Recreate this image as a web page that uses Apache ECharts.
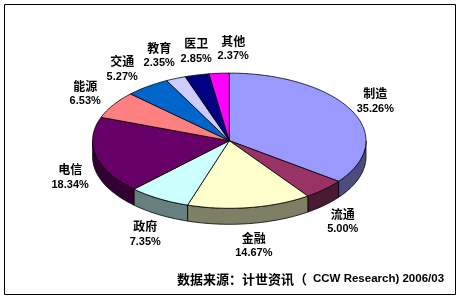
<!DOCTYPE html>
<html>
<head>
<meta charset="utf-8">
<script src="https://cdn.jsdelivr.net/npm/echarts@6/dist/echarts.min.js"></script>
<style>html,body{margin:0;padding:0;background:#fff}#c{width:459px;height:297px}</style>
</head>
<body>
<div id="c"></div>
<script>
// ---- data ----
const categories = ['制造', '流通', '金融', '政府', '电信', '能源', '交通', '教育', '医卫', '其他'];
const shares = [35.26, 5.00, 14.67, 7.35, 18.34, 6.53, 5.27, 2.35, 2.85, 2.37];
const sourceCjk = '数据来源：计世资讯（';
const sourceLatin = 'CCW Research) 2006/03';

// ---- style ----
const topColors = ['#9999FF', '#993366', '#FFFFCC', '#CCFFFF', '#660066', '#FF8080', '#0066CC', '#CCCCFF', '#000080', '#FF00FF'];
const G = { cx: 229.3, cy: 140.7, rx: 136.7, ry: 67.6, depth: 16 };
const CJK = '"Noto Sans CJK SC", "Noto Sans", sans-serif';
const LAT = '"Liberation Sans", Arial, sans-serif';

function darken(hex) {
  const n = parseInt(hex.slice(1), 16);
  const r = ((n >> 16) & 255) >> 1, g = ((n >> 8) & 255) >> 1, b = (n & 255) >> 1;
  return 'rgb(' + r + ',' + g + ',' + b + ')';
}
const total = shares.reduce((a, b) => a + b, 0);
const starts = [];
{ let s = 0; shares.forEach(v => { starts.push(s); s += v; }); }

function pt(deg, dy) {
  const t = deg * Math.PI / 180;
  return [G.cx + G.rx * Math.sin(t), G.cy - G.ry * Math.cos(t) + (dy || 0)];
}
function arc(a, b, dy) {
  const pts = [];
  const n = Math.max(2, Math.ceil(Math.abs(b - a) / 1));
  for (let k = 0; k <= n; k++) pts.push(pt(a + (b - a) * k / n, dy));
  return pts;
}

// ---- label layout (derived from slice mid-angles) ----
const LW = 37, LH = 28, LD = 8;
const labels = shares.map((v, i) => {
  const mid = (starts[i] + v / 2) / total * 2 * Math.PI;
  const sx = Math.sin(mid), sy = -Math.cos(mid);
  const ax = G.cx + (G.rx + LD) * sx;
  const ay = G.cy + (G.ry + LD) * sy + (sy > 0 ? G.depth : 0);
  return { x: ax + sx * LW / 2, y: ay + sy * LH / 2 - (sy < -0.9 ? 3 : 0) };
});
for (let it = 0; it < 200; it++) {
  for (let i = 0; i < labels.length; i++) {
    for (let j = i + 1; j < labels.length; j++) {
      const A = labels[i], B = labels[j];
      const dx = B.x - A.x, dy = B.y - A.y;
      if (Math.abs(dx) < LW && Math.abs(dy) < LH) {
        const push = (LW - Math.abs(dx)) / 2 * 0.5;
        const s = dx >= 0 ? 1 : -1;
        A.x -= s * push; B.x += s * push;
      }
    }
  }
}

function renderItem(params, api) {
  const i = params.dataIndex;
  const v = api.value(0);
  const a0 = starts[i] / total * 360;
  const a1 = (starts[i] + v) / total * 360;
  const children = [];
  // outer side wall (front half only)
  const s0 = Math.max(a0, 90), s1 = Math.min(a1, 270);
  if (s1 > s0) {
    const pts = arc(s0, s1, 0).concat(arc(s1, s0, G.depth));
    children.push({ type: 'polygon', shape: { points: pts },
      style: { fill: darken(topColors[i]), stroke: '#000', lineWidth: 0.8 } });
  }
  // top face
  const top = [[G.cx, G.cy]].concat(arc(a0, a1, 0));
  children.push({ type: 'polygon', shape: { points: top },
    style: { fill: topColors[i], stroke: '#000', lineWidth: 0.8 } });
  // label
  const L = labels[i];
  children.push({ type: 'text', x: L.x, y: L.y - 7,
    style: { text: categories[i], fill: '#000', font: 'bold 12px ' + CJK, align: 'center', verticalAlign: 'middle' } });
  children.push({ type: 'text', x: L.x, y: L.y + 8,
    style: { text: v.toFixed(2) + '%', fill: '#000', font: 'bold 11px ' + LAT, align: 'center', verticalAlign: 'middle' } });
  return { type: 'group', children: children };
}

const chart = echarts.init(document.getElementById('c'), null, { renderer: 'canvas' });
chart.setOption({
  backgroundColor: '#fff',
  animation: false,
  graphic: [
    { type: 'rect', shape: { x: 4.5, y: 4.5, width: 451, height: 290 },
      style: { fill: 'none', stroke: '#000', lineWidth: 1 } },
    { type: 'text', x: 177, y: 279,
      style: { text: sourceCjk, fill: '#000', font: 'bold 13px ' + CJK, align: 'left', verticalAlign: 'middle' } },
    { type: 'text', x: 313, y: 279,
      style: { text: sourceLatin, fill: '#000', font: 'bold 11.5px ' + LAT, align: 'left', verticalAlign: 'middle' } }
  ],
  series: [{
    type: 'custom',
    coordinateSystem: 'none',
    data: shares.map((v, i) => ({ name: categories[i], value: [v] })),
    renderItem: renderItem
  }]
});
</script>
</body>
</html>
